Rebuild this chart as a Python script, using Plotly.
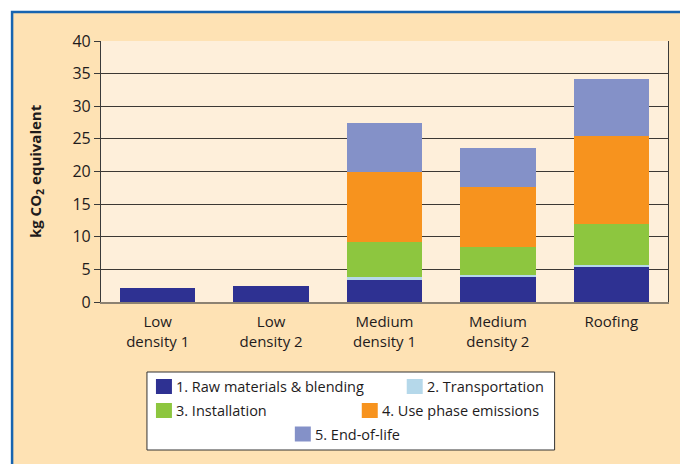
import plotly.graph_objects as go

categories = ["Low<br>density 1", "Low<br>density 2", "Medium<br>density 1", "Medium<br>density 2", "Roofing"]
series_names = ["1. Raw materials & blending", "2. Transportation", "3. Installation",
                "4. Use phase emissions", "5. End-of-life"]
raw_materials = [2.1, 2.45, 3.5, 3.85, 5.5]
transportation = [0.0, 0.0, 0.3, 0.3, 0.15]
installation = [0.0, 0.0, 5.4, 4.25, 6.3]
use_phase = [0.0, 0.0, 10.7, 9.2, 13.45]
end_of_life = [0.0, 0.0, 7.6, 5.95, 8.85]
series_values = [raw_materials, transportation, installation, use_phase, end_of_life]
colors = ["#2e3192", "#b5d8ea", "#8dc63f", "#f7931e", "#8491c8"]
y_ticks = [0, 5, 10, 15, 20, 25, 30, 35, 40]

W, H = 680, 464
L, R, T, B = 101, 668.5, 41, 302


def xp(px):
    return (px - L) / (R - L)


def yp(py):
    return (B - py) / (B - T)


fig = go.Figure()
for name, vals, col in zip(series_names, series_values, colors):
    fig.add_trace(go.Bar(x=categories, y=vals, name=name, marker=dict(color=col, line=dict(width=0)),
                         showlegend=False))

FONT = "Open Sans, Noto Sans, sans-serif"
TXT = "#1e1b1c"

shapes = [
    # outer framed panel
    dict(type="rect", xref="paper", yref="paper", x0=xp(12), x1=xp(690), y0=yp(12), y1=yp(480),
         fillcolor="#fee2b4", line=dict(color="#1764b0", width=2.5), layer="below"),
    # plot area fill
    dict(type="rect", xref="x domain", yref="y domain", x0=0, x1=1, y0=0, y1=1,
         fillcolor="#feefda", line=dict(width=0), layer="below"),
    # legend box
    dict(type="rect", xref="paper", yref="paper", x0=xp(147), x1=xp(555), y0=yp(372), y1=yp(450),
         fillcolor="white", line=dict(color="#333333", width=1)),
]

annotations = [
    dict(text="<b>kg CO<sub>2</sub> equivalent</b>", xref="paper", yref="paper", x=xp(36), y=yp(171),
         textangle=-90, showarrow=False, font=dict(family=FONT, size=15, color=TXT),
         xanchor="center", yanchor="middle"),
]

# legend layout: (swatch left x px, row center y px)
leg_pos = [(156, 386.5), (407, 386.5), (156, 410.5), (362, 410.5), (295, 434)]
for (sx, sy), name, col in zip(leg_pos, series_names, colors):
    shapes.append(dict(type="rect", xref="paper", yref="paper", x0=xp(sx), x1=xp(sx + 16),
                       y0=yp(sy - 7.5), y1=yp(sy + 7.5), fillcolor=col, line=dict(width=0)))
    annotations.append(dict(text=name, xref="paper", yref="paper", x=xp(sx + 18), y=yp(sy),
                            xanchor="left", yanchor="middle", showarrow=False,
                            font=dict(family=FONT, size=14.5, color=TXT)))

fig.update_layout(
    width=W, height=H,
    margin=dict(l=L, r=W - R, t=T, b=H - B, pad=0),
    barmode="stack", bargap=0.334,
    paper_bgcolor="white", plot_bgcolor="rgba(0,0,0,0)",
    font=dict(family=FONT, size=15, color=TXT),
    shapes=shapes, annotations=annotations,
    xaxis=dict(showline=True, linecolor="#8c8272", linewidth=2, ticks="", showgrid=False,
               ticklabelstandoff=5,
               tickfont=dict(family=FONT, size=15, color=TXT), fixedrange=True),
    yaxis=dict(range=[0, 40], tickvals=y_ticks, showline=True, linecolor="#3a3a3a", linewidth=1.2,
               mirror=True, ticks="outside", ticklen=6, tickcolor="#3a3a3a",
               showgrid=True, gridcolor="#3c3834", gridwidth=1.2, zeroline=False,
               tickfont=dict(family=FONT, size=16, color=TXT), fixedrange=True),
)

fig.write_html("out.html", config={"displayModeBar": False},
               post_script="document.body.style.margin='0';document.body.style.overflow='hidden';")
